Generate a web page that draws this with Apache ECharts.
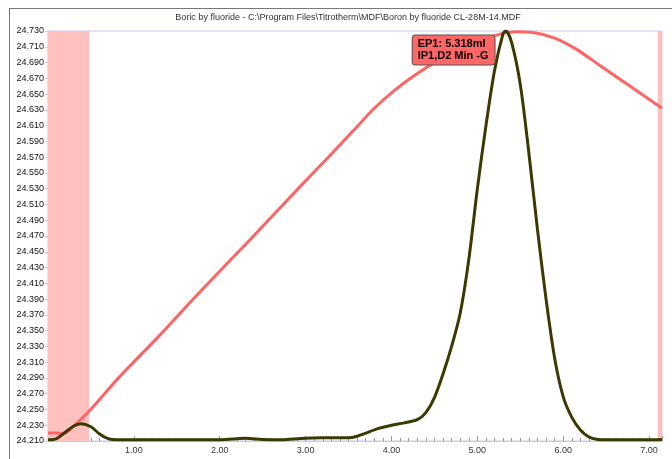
<!DOCTYPE html>
<html><head><meta charset="utf-8">
<script src="https://cdn.jsdelivr.net/npm/echarts@6/dist/echarts.min.js"></script>
<style>html,body{margin:0;padding:0;background:#fff}#c{width:672px;height:459px}</style>
</head><body><div id="c"></div>
<script>
const titleText = 'Boric by fluoride - C:\\Program Files\\Titrotherm\\MDF\\Boron by fluoride CL-28M-14.MDF';
const annotation = ['EP1: 5.318ml', 'IP1,D2 Min -G'];
const endPoint = [5.318, 24.730];
const bandLeft = [0, 0.48];
const bandRight = [7.10, 7.15];

const redX = [0, 0.10, 0.18, 0.25, 0.35, 0.48, 0.83, 1.30, 1.76, 2.35, 2.93, 3.30, 3.55, 3.80, 4.05, 4.30, 4.55, 4.80, 5.05, 5.30, 5.45, 5.65, 5.90, 6.15, 6.43, 6.78, 7.15];
const redY = [24.220, 24.220, 24.219, 24.224, 24.234, 24.248, 24.291, 24.344, 24.398, 24.465, 24.532, 24.574, 24.603, 24.632, 24.656, 24.676, 24.693, 24.707, 24.719, 24.727, 24.729, 24.728, 24.721, 24.707, 24.686, 24.660, 24.632];

const darkX = [0, 0.1, 0.2, 0.3, 0.385, 0.5, 0.6, 0.7, 0.8, 1.0, 1.5, 2.0, 2.15, 2.3, 2.5, 2.7, 2.9, 3.2, 3.5, 3.6, 3.7, 3.85, 4.0, 4.15, 4.3, 4.4, 4.5, 4.6, 4.7, 4.8, 4.9, 5.0, 5.1, 5.2, 5.3, 5.33, 5.4, 5.5, 5.6, 5.7, 5.8, 5.9, 6.0, 6.1, 6.2, 6.3, 6.4, 6.5, 6.7, 7.0, 7.15];
const darkY = [24.2115, 24.213, 24.221, 24.229, 24.232, 24.228, 24.219, 24.213, 24.2115, 24.2115, 24.2115, 24.2115, 24.2125, 24.2135, 24.212, 24.2115, 24.213, 24.214, 24.214, 24.216, 24.220, 24.226, 24.230, 24.233, 24.237, 24.246, 24.265, 24.295, 24.330, 24.372, 24.440, 24.530, 24.610, 24.680, 24.727, 24.730, 24.715, 24.662, 24.575, 24.478, 24.390, 24.315, 24.266, 24.240, 24.224, 24.215, 24.212, 24.2115, 24.2115, 24.2115, 24.212];

const pairs = (xs, ys) => xs.map((x, i) => [x, ys[i]]);
const chart = echarts.init(document.getElementById('c'), null, {renderer: 'canvas'});
const lav = '#c8c8f0';
chart.setOption({
  animation: false,
  backgroundColor: '#fff',
  graphic: [
    {type: 'line', shape: {x1: 9, y1: 8.5, x2: 672, y2: 8.5}, style: {stroke: '#777', lineWidth: 1}, z: 10},
    {type: 'line', shape: {x1: 9.5, y1: 8, x2: 9.5, y2: 459}, style: {stroke: '#777', lineWidth: 1}, z: 10},
    {type: 'text', x: 348, y: 18, style: {text: titleText, fontSize: 9, fontFamily: 'Arial', fill: '#333', align: 'center', verticalAlign: 'middle'}}
  ],
  grid: {left: 48, right: 10, top: 31, bottom: 18, show: true, borderColor: lav, borderWidth: 1, backgroundColor: '#fff'},
  xAxis: {
    type: 'value', min: 0, max: 7.15, interval: 1,
    axisLine: {show: true, lineStyle: {color: lav}},
    axisTick: {show: true, inside: true, length: 5, lineStyle: {color: '#999'}},
    minorTick: {show: true, splitNumber: 10, length: 3, lineStyle: {color: '#999'}},
    splitLine: {show: false},
    axisLabel: {fontSize: 9, fontFamily: 'Arial', color: '#333', margin: 5, showMinLabel: false, showMaxLabel: false,
      formatter: v => v.toFixed(2)}
  },
  yAxis: {
    type: 'value', min: 24.21, max: 24.73, interval: 0.02,
    axisLine: {show: true, lineStyle: {color: lav}},
    axisTick: {show: true, length: 3, lineStyle: {color: lav}},
    splitLine: {show: false},
    axisLabel: {fontSize: 9, fontFamily: 'Arial', color: '#111', margin: 4, formatter: v => v.toFixed(3)}
  },
  series: [
    {
      type: 'line', data: pairs(redX, redY), smooth: 0.3, symbol: 'none',
      lineStyle: {color: '#ff6464', width: 3}, z: 2,
      markArea: {silent: true, itemStyle: {color: '#ffc0c0'}, data: [
        [{xAxis: bandLeft[0]}, {xAxis: bandLeft[1]}],
        [{xAxis: bandRight[0]}, {xAxis: bandRight[1]}]
      ]}
    },
    {
      type: 'line', data: pairs(darkX, darkY), smooth: 0.3, symbol: 'none',
      lineStyle: {color: '#3a3a00', width: 3}, z: 3,
      markPoint: {
        symbol: 'rect', symbolSize: 1, itemStyle: {color: 'rgba(0,0,0,0)'},
        data: [{coord: endPoint}],
        label: {show: true, position: 'inside', offset: [-92, 19], formatter: annotation.join('\n'),
          backgroundColor: '#ff6666', borderColor: '#555', borderWidth: 1, borderRadius: 3,
          padding: [3, 6, 2, 5], fontSize: 11, fontWeight: 'bold', fontFamily: 'Arial', color: '#000',
          lineHeight: 12, align: 'left'}
      }
    }
  ]
});
</script></body></html>
